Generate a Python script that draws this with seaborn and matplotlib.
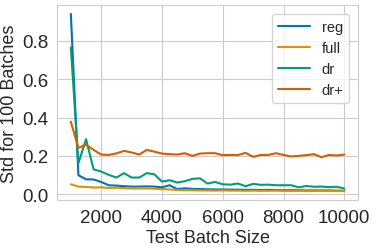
import numpy as np
import pandas as pd
import matplotlib
matplotlib.use('Agg')
import matplotlib.pyplot as plt
import seaborn as sns

batch_sizes = list(range(1000, 10001, 250))

reg = [0.940, 0.099, 0.078, 0.077, 0.064, 0.047, 0.045, 0.042, 0.040, 0.040,
       0.041, 0.040, 0.036, 0.047, 0.027, 0.031, 0.028, 0.027, 0.026, 0.025,
       0.025, 0.024, 0.024, 0.023, 0.023, 0.022, 0.023, 0.022, 0.021, 0.021,
       0.021, 0.020, 0.020, 0.020, 0.020, 0.019, 0.018]
full = [0.052, 0.040, 0.038, 0.035, 0.036, 0.033, 0.034, 0.032, 0.030, 0.030,
        0.030, 0.029, 0.027, 0.025, 0.022, 0.021, 0.021, 0.020, 0.020, 0.019,
        0.020, 0.019, 0.019, 0.018, 0.019, 0.018, 0.018, 0.019, 0.018, 0.017,
        0.018, 0.017, 0.017, 0.018, 0.017, 0.017, 0.016]
dr = [0.766, 0.162, 0.287, 0.130, 0.118, 0.101, 0.087, 0.110, 0.087, 0.087,
      0.110, 0.104, 0.066, 0.073, 0.061, 0.068, 0.080, 0.083, 0.056, 0.064,
      0.052, 0.050, 0.056, 0.042, 0.054, 0.049, 0.050, 0.047, 0.047, 0.047,
      0.036, 0.043, 0.039, 0.040, 0.037, 0.039, 0.030]
dr_plus = [0.378, 0.242, 0.258, 0.231, 0.207, 0.205, 0.213, 0.226, 0.218, 0.207,
           0.231, 0.222, 0.212, 0.209, 0.207, 0.214, 0.200, 0.212, 0.214, 0.214,
           0.204, 0.205, 0.204, 0.216, 0.195, 0.205, 0.205, 0.214, 0.205, 0.197,
           0.200, 0.204, 0.209, 0.193, 0.205, 0.202, 0.207]

df = pd.DataFrame({'Test Batch Size': batch_sizes, 'reg': reg, 'full': full,
                   'dr': dr, 'dr+': dr_plus})
long = df.melt(id_vars='Test Batch Size', var_name='method', value_name='std')

sns.set_style('whitegrid')
plt.rcParams['font.family'] = ['Arial', 'Liberation Sans', 'DejaVu Sans']

fig, ax = plt.subplots(figsize=(3.76, 2.51), dpi=100)
fig.subplots_adjust(left=0.152, right=0.952, bottom=0.199, top=0.976)

sns.lineplot(data=long, x='Test Batch Size', y='std', hue='method',
             palette='colorblind', linewidth=1.5, ax=ax)

ax.set_xlabel('Test Batch Size', fontsize=13, labelpad=2)
ax.set_ylabel('Std for 100 Batches', fontsize=13, labelpad=3)
ax.tick_params(labelsize=13.5, pad=3)
ax.set_xticks([2000, 4000, 6000, 8000, 10000])
ax.set_yticks([0.0, 0.2, 0.4, 0.6, 0.8])
ax.legend(title=None, loc='upper right', fontsize=10.5, handlelength=2.2,
          borderaxespad=0.6)

fig.savefig('out.png', dpi=100)
